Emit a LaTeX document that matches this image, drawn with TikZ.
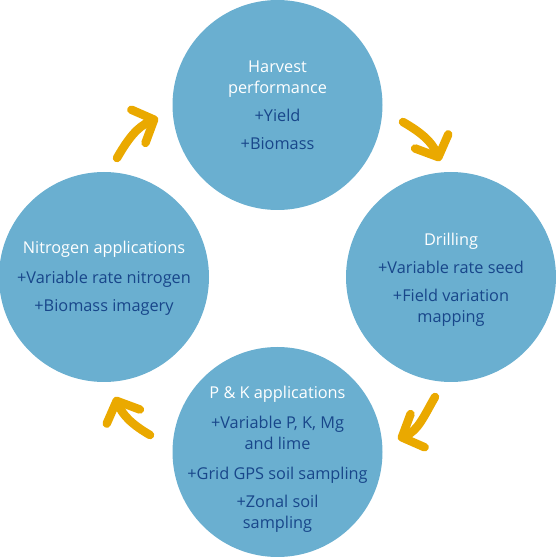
\documentclass[tikz,border=0pt]{standalone}
\usepackage{fontspec}
\setmainfont{Open Sans}
\usetikzlibrary{arrows.meta}
\definecolor{circblue}{RGB}{106,175,208}
\definecolor{itemblue}{RGB}{24,70,138}
\definecolor{arroworange}{RGB}{234,169,0}
\newcommand\stagetitle[1]{\textcolor{white}{#1}}
\begin{document}
\begin{tikzpicture}[x=1pt,y=1pt,
  stage/.style={circle, fill=circblue, minimum size=210pt, inner sep=0pt},
  stagetext/.style={align=center, inner sep=0pt, font=\fontsize{16.3}{21}\selectfont, text=itemblue},
  cyclearrow/.style={draw=arroworange, line width=8.5pt, line cap=round,
    -{Straight Barb[length=17pt, width=36pt, round]}}
]
\useasboundingbox (0,0) rectangle (556,558);
% circles
\node[stage] (harvest) at (277.5,453) {};
\node[stage] (drilling) at (451,281) {};
\node[stage] (pk) at (277.5,106) {};
\node[stage] (nitrogen) at (104,281) {};
% texts
\node[stagetext] (harvestT) at (harvest) {\stagetitle{Harvest}\\\stagetitle{performance}\\[7pt]+Yield\\[7pt]+Biomass};
\node[stagetext] (drillingT) at ([yshift=-3pt]drilling) {\stagetitle{Drilling}\\[7pt]+Variable rate seed\\[7pt]+Field variation\\mapping};
\node[stagetext] (pkT) at ([yshift=-7pt]pk) {\stagetitle{P \& K applications}\\[9pt]+Variable P, K, Mg\\and lime\\[9pt]+Grid GPS soil sampling\\[7pt]+Zonal soil\\sampling};
\node[stagetext] (nitrogenT) at ([yshift=-1pt]nitrogen) {\stagetitle{Nitrogen applications}\\[9pt]+Variable rate nitrogen\\[7pt]+Biomass imagery};
% arrows
\coordinate (a1s) at (117,400);
\coordinate (a1e) at (158,440);
\coordinate (a2s) at (403,436);
\coordinate (a2e) at (440,397);
\coordinate (a3s) at (435,161);
\coordinate (a3e) at (398,119);
\coordinate (a4s) at (150,123);
\coordinate (a4e) at (115,161);
\draw[cyclearrow] (a1s) to[out=60, in=203] (a1e);
\draw[cyclearrow] (a2s) to[out=-30, in=113] (a2e);
\draw[cyclearrow] (a3s) to[out=-120, in=23] (a3e);
\draw[cyclearrow] (a4s) to[out=150, in=-67] (a4e);
\end{tikzpicture}
\end{document}
